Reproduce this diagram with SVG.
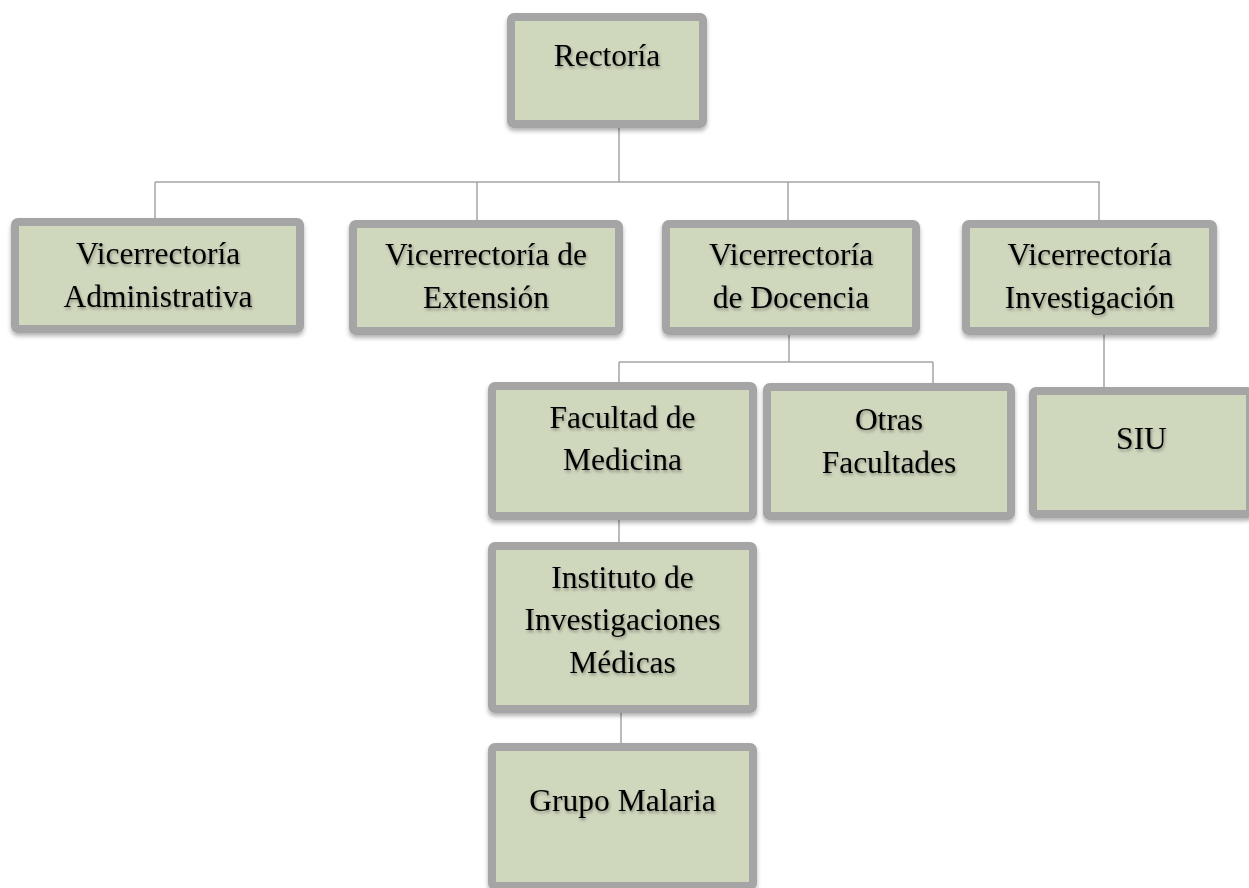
<svg xmlns="http://www.w3.org/2000/svg" width="1249" height="888" viewBox="0 0 1249 888">
<defs>
<filter id="bs" x="-10%" y="-10%" width="120%" height="130%">
<feDropShadow dx="0" dy="3" stdDeviation="2" flood-color="#000" flood-opacity="0.3"/>
</filter>
<filter id="ts" x="-10%" y="-30%" width="120%" height="160%">
<feDropShadow dx="1" dy="2" stdDeviation="1.5" flood-color="#000" flood-opacity="0.35"/>
</filter>
</defs>
<style>
.box{fill:#cfd7bd;stroke:#a5a5a5;stroke-width:8;filter:url(#bs)}
.t{font-family:"Liberation Serif","Times New Roman",serif;font-size:31.5px;fill:#000;text-anchor:middle;filter:url(#ts)}
.c{fill:none;stroke:#a5a5a5;stroke-width:1.5}
</style>
<rect width="1249" height="888" fill="#fff"/>
<g id="connectors">
<path class="c" d="M619,128 V182 M155,182 H1100 M155,182 V218 M477,182 V220 M788,182 V220 M1099,182 V220"/>
<path class="c" d="M789,335 V362 M619,362 H933 M619,362 V382 M933,362 V383"/>
<path class="c" d="M1104,335 V387"/>
<path class="c" d="M619,520 V542"/>
<path class="c" d="M621,713 V743"/>
</g>
<g id="rectoria">
<rect class="box" x="511" y="17" width="192" height="107" rx="3"/>
<text class="t" x="607" y="66">Rectoría</text>
</g>
<g id="vic-administrativa">
<rect class="box" x="15" y="222" width="285" height="107" rx="3"/>
<text class="t" x="158" y="264">Vicerrectoría</text>
<text class="t" x="158" y="307">Administrativa</text>
</g>
<g id="vic-extension">
<rect class="box" x="353" y="224" width="266" height="107" rx="3"/>
<text class="t" x="486" y="265">Vicerrectoría de</text>
<text class="t" x="486" y="308">Extensión</text>
</g>
<g id="vic-docencia">
<rect class="box" x="666" y="224" width="250" height="107" rx="3"/>
<text class="t" x="791" y="265">Vicerrectoría</text>
<text class="t" x="791" y="308">de Docencia</text>
</g>
<g id="vic-investigacion">
<rect class="box" x="966" y="224" width="247" height="107" rx="3"/>
<text class="t" x="1089.5" y="265">Vicerrectoría</text>
<text class="t" x="1089.5" y="308">Investigación</text>
</g>
<g id="fac-medicina">
<rect class="box" x="492" y="386" width="261" height="130" rx="3"/>
<text class="t" x="622.5" y="428">Facultad de</text>
<text class="t" x="622.5" y="470">Medicina</text>
</g>
<g id="otras-facultades">
<rect class="box" x="767" y="387" width="244" height="129" rx="3"/>
<text class="t" x="889" y="430">Otras</text>
<text class="t" x="889" y="473">Facultades</text>
</g>
<g id="siu">
<rect class="box" x="1033" y="391" width="217" height="123" rx="3"/>
<text class="t" x="1141.5" y="449">SIU</text>
</g>
<g id="instituto">
<rect class="box" x="492" y="546" width="261" height="163" rx="3"/>
<text class="t" x="622.5" y="588">Instituto de</text>
<text class="t" x="622.5" y="630">Investigaciones</text>
<text class="t" x="622.5" y="673">Médicas</text>
</g>
<g id="grupo-malaria">
<rect class="box" x="492" y="747" width="261" height="139" rx="3"/>
<text class="t" x="622.5" y="811">Grupo Malaria</text>
</g>
</svg>
